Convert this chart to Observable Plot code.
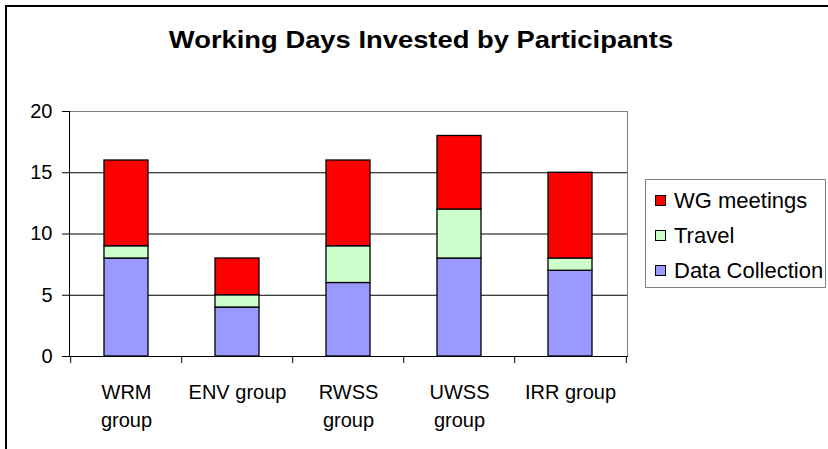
<!DOCTYPE html>
<html><head><meta charset="utf-8">
<script src="https://cdn.jsdelivr.net/npm/d3@7"></script>
<script src="https://cdn.jsdelivr.net/npm/@observablehq/plot@0.6"></script>
<style>
html,body{margin:0;padding:0;background:#fff;}
#wrap{position:relative;width:828px;height:449px;overflow:hidden;font-family:"Liberation Sans",Arial,sans-serif;color:#000;}
#border{position:absolute;left:5px;top:5px;width:900px;height:600px;border-left:2px solid #000;border-top:2px solid #000;}
#title{position:absolute;left:121px;width:600px;top:28px;text-align:center;font-weight:bold;font-size:24px;line-height:23px;white-space:nowrap;transform:scaleX(1.14);transform-origin:300px 0;}
#chart{position:absolute;left:0;top:0;}
#legend{position:absolute;left:645px;top:179px;width:181px;height:109px;border:1px solid #808080;box-sizing:border-box;padding-top:3px;}
.row{display:flex;align-items:center;height:35px;font-size:22px;white-space:nowrap;}
.sw{width:9px;height:9px;border:1px solid #000;margin-left:9px;margin-right:8px;flex:none;}
</style>
</head><body>
<div id="wrap">
  <div id="border"></div>
  <div id="chart"></div>
  <div id="title">Working Days Invested by Participants</div>
  <div id="legend"></div>
</div>
<script>
const groups = ["WRM group", "ENV group", "RWSS group", "UWSS group", "IRR group"];
const groupLabels = ["WRM\ngroup", "ENV group", "RWSS\ngroup", "UWSS\ngroup", "IRR group"];
const dataCollection = [8, 4, 6, 8, 7];
const travel = [1, 1, 3, 4, 1];
const wgMeetings = [7, 3, 7, 6, 7];
const seriesNames = ["Data Collection", "Travel", "WG meetings"];
const seriesColors = ["#9999FF", "#CCFFCC", "#FF0000"];
const yTicks = [0, 5, 10, 15, 20];
const yGrid = [5, 10, 15];

const seriesValues = [dataCollection, travel, wgMeetings];
const rows = [];
groups.forEach((g, i) => {
  seriesNames.forEach((s, j) => rows.push({group: g, series: s, value: seriesValues[j][i]}));
});
const labelOf = new Map(groups.map((g, i) => [g, groupLabels[i]]));

const W = 828, H = 449, mL = 69, mR = 201, mT = 111, mB = 93;
const step = (W - mL - mR) / groups.length;

const plot = Plot.plot({
  width: W, height: H,
  marginLeft: mL, marginRight: mR, marginTop: mT, marginBottom: mB,
  style: {fontFamily: "Liberation Sans, Arial, sans-serif", fontSize: "20px", background: "transparent", color: "#000", overflow: "visible"},
  x: {domain: groups, paddingInner: 0.6, paddingOuter: 0.3, label: null},
  y: {domain: [0, 20], label: null},
  color: {domain: seriesNames, range: seriesColors},
  marks: [
    Plot.ruleY(yGrid, {stroke: "#000"}),
    Plot.frame({stroke: "#808080"}),
    Plot.barY(rows, {x: "group", y: "value", fill: "series", stroke: "#000", strokeWidth: 1.3, order: seriesNames}),
    Plot.frame({anchor: "left", stroke: "#000"}),
    Plot.frame({anchor: "bottom", stroke: "#000"}),
    Plot.ruleX(groups, {x: d => d, y1: 0, y2: 0, insetBottom: -7, dx: -step / 2, stroke: "#000"}),
    Plot.ruleX(groups.slice(-1), {x: d => d, y1: 0, y2: 0, insetBottom: -7, dx: step / 2, stroke: "#000"}),
    Plot.axisY({ticks: yTicks, tickSize: 7, tickPadding: 10, stroke: "#000", fill: "#000", tickFormat: d => String(d), label: null}),
    Plot.axisX({tickSize: 0, tickPadding: 23, tickFormat: d => labelOf.get(d), lineHeight: 1.4, fill: "#000", label: null})
  ]
});
document.getElementById("chart").appendChild(plot);

const legend = document.getElementById("legend");
[...seriesNames].reverse().forEach(name => {
  const row = document.createElement("div");
  row.className = "row";
  const sw = document.createElement("div");
  sw.className = "sw";
  sw.style.background = plot.scale("color").apply(name);
  const t = document.createElement("span");
  t.textContent = name;
  row.appendChild(sw); row.appendChild(t);
  legend.appendChild(row);
});
</script>
</body></html>
